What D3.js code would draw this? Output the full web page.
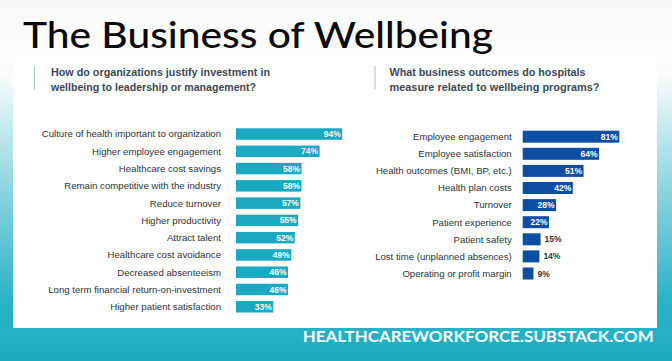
<!DOCTYPE html>
<html>
<head>
<meta charset="utf-8">
<script src="https://cdn.jsdelivr.net/npm/d3@7"></script>
<style>
  html, body { margin: 0; padding: 0; background: #ffffff; }
  svg { display: block; }
</style>
</head>
<body>
<div id="chart"></div>
<script>
const titleText = "The Business of Wellbeing";
const leftQuestion = ["How do organizations justify investment in", "wellbeing to leadership or management?"];
const rightQuestion = ["What business outcomes do hospitals", "measure related to wellbeing programs?"];
const footerText = "HEALTHCAREWORKFORCE.SUBSTACK.COM";

const leftCategories = [
  "Culture of health important to organization",
  "Higher employee engagement",
  "Healthcare cost savings",
  "Remain competitive with the industry",
  "Reduce turnover",
  "Higher productivity",
  "Attract talent",
  "Healthcare cost avoidance",
  "Decreased absenteeism",
  "Long term financial return-on-investment",
  "Higher patient satisfaction"
];
const leftValues = [94, 74, 58, 58, 57, 55, 52, 49, 46, 46, 33];

const rightCategories = [
  "Employee engagement",
  "Employee satisfaction",
  "Health outcomes (BMI, BP, etc.)",
  "Health plan costs",
  "Turnover",
  "Patient experience",
  "Patient safety",
  "Lost time (unplanned absences)",
  "Operating or profit margin"
];
const rightValues = [81, 64, 51, 42, 28, 22, 15, 14, 9];

const W = 672, H = 361;
const svg = d3.select("#chart").append("svg").attr("width", W).attr("height", H);
const defs = svg.append("defs");

const sideGrad = defs.append("linearGradient").attr("id", "sideGrad")
  .attr("x1", 0).attr("y1", 0).attr("x2", 0).attr("y2", H).attr("gradientUnits", "userSpaceOnUse");
sideGrad.append("stop").attr("offset", 0).attr("stop-color", "#ffffff");
sideGrad.append("stop").attr("offset", 0.2).attr("stop-color", "#fbfdfd");
sideGrad.append("stop").attr("offset", 0.5).attr("stop-color", "#95d7e1");
sideGrad.append("stop").attr("offset", 0.85).attr("stop-color", "#27b1c5");
sideGrad.append("stop").attr("offset", 1).attr("stop-color", "#1fabbf");

const bandGrad = defs.append("linearGradient").attr("id", "bandGrad")
  .attr("x1", 0).attr("y1", 0).attr("x2", 0).attr("y2", 1);
bandGrad.append("stop").attr("offset", 0).attr("stop-color", "#27b3c6");
bandGrad.append("stop").attr("offset", 1).attr("stop-color", "#1ba9be");

const topGrad = defs.append("linearGradient").attr("id", "topGrad")
  .attr("x1", 0).attr("y1", 0).attr("x2", 0).attr("y2", 1);
topGrad.append("stop").attr("offset", 0).attr("stop-color", "#f6f7f7");
topGrad.append("stop").attr("offset", 1).attr("stop-color", "#ffffff");

// frame
svg.append("rect").attr("x", 0).attr("y", 0).attr("width", W).attr("height", H).attr("fill", "url(#sideGrad)");
svg.append("rect").attr("x", 0).attr("y", 328).attr("width", W).attr("height", H - 328).attr("fill", "url(#bandGrad)");
svg.append("rect").attr("x", 13).attr("y", 0).attr("width", 644).attr("height", 328).attr("fill", "#ffffff");
svg.append("rect").attr("x", 0).attr("y", 0).attr("width", W).attr("height", 60).attr("fill", "url(#topGrad)").attr("opacity", 0.8);

// title
svg.append("text").text(titleText)
  .attr("x", 23).attr("y", 48)
  .attr("font-family", "Lato, 'Noto Sans', sans-serif")
  .attr("font-size", 36).attr("font-weight", 500)
  .attr("fill", "#0a0a0a")
  .attr("textLength", 470).attr("lengthAdjust", "spacingAndGlyphs");

// questions
function question(lines, xBar, xText, widths) {
  svg.append("line").attr("x1", xBar).attr("x2", xBar).attr("y1", 66).attr("y2", 89.5)
    .attr("stroke", "#a8c3c7").attr("stroke-width", 1);
  lines.forEach((l, i) => {
    svg.append("text").text(l)
      .attr("x", xText).attr("y", 76 + i * 14.5)
      .attr("font-family", "'Liberation Sans', Arial, sans-serif")
      .attr("font-size", 10.5).attr("font-weight", 700)
      .attr("fill", "#3b4854")
      .attr("textLength", widths[i]).attr("lengthAdjust", "spacingAndGlyphs");
  });
}
question(leftQuestion, 34.5, 51, [219, 205]);
question(rightQuestion, 375, 389.5, [196, 210]);

// generic bar chart
function barChart(cats, vals, opt) {
  const x = d3.scaleLinear().domain([0, 100]).range([opt.x0, opt.x0 + opt.pxPer100]);
  const y = d3.scaleBand().domain(cats).range(opt.yRange)
    .paddingInner(opt.pad).paddingOuter(opt.pad / 2);
  const g = svg.append("g");
  const rows = g.selectAll("g.row").data(cats.map((c, i) => ({ c, v: vals[i] })))
    .enter().append("g").attr("class", "row");
  rows.append("rect")
    .attr("x", x(0)).attr("y", d => y(d.c))
    .attr("width", d => x(d.v) - x(0)).attr("height", y.bandwidth())
    .attr("fill", opt.color);
  rows.append("text").text(d => d.c)
    .attr("x", opt.labelX).attr("y", d => y(d.c) + y.bandwidth() / 2)
    .attr("dy", "0.35em").attr("text-anchor", "end")
    .attr("font-family", "'Liberation Sans', Arial, sans-serif")
    .attr("font-size", opt.labelSize).attr("fill", "#2b333c");
  rows.append("text").text(d => d.v + "%")
    .attr("x", d => d.v < 20 ? x(d.v) + 4 : x(d.v) - 1.5)
    .attr("y", d => y(d.c) + y.bandwidth() / 2)
    .attr("dy", "0.36em")
    .attr("text-anchor", d => d.v < 20 ? "start" : "end")
    .attr("font-family", "'Liberation Sans', Arial, sans-serif")
    .attr("font-size", 8.5).attr("font-weight", 700)
    .attr("fill", d => d.v < 20 ? "#2e3640" : "#ffffff");
}

barChart(leftCategories, leftValues, {
  x0: 236, pxPer100: 113, yRange: [125.4, 315.4], pad: 0.334,
  color: "#1aa9c1", labelX: 221, labelSize: 9.65
});
barChart(rightCategories, rightValues, {
  x0: 522.7, pxPer100: 119.3, yRange: [128.15, 282.05], pad: 0.298,
  color: "#0d4ea3", labelX: 511.7, labelSize: 9.6
});

// footer
svg.append("text").text(footerText)
  .attr("x", 302.7).attr("y", 341.8)
  .attr("font-family", "Lato, 'Noto Sans', sans-serif")
  .attr("font-size", 14.5).attr("font-weight", 700)
  .attr("fill", "#ffffff")
  .attr("textLength", 351).attr("lengthAdjust", "spacingAndGlyphs");
</script>
</body>
</html>
